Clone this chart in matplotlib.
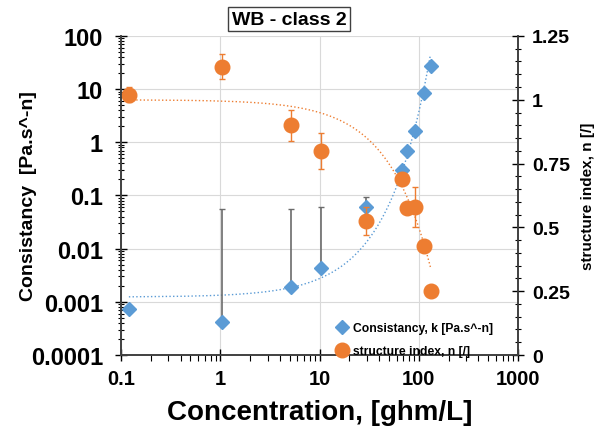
import numpy as np
import matplotlib
matplotlib.use("Agg")
import matplotlib.pyplot as plt
from matplotlib.ticker import FixedLocator, FuncFormatter, MultipleLocator, LogLocator

plt.rcParams['font.family'] = ['Liberation Sans', 'DejaVu Sans']
plt.rcParams['font.weight'] = 'bold'

# data
conc = [0.12, 1.04, 5.2, 10.4, 29.4, 68, 76, 92, 113, 133]
k_val = [0.00074, 0.00042, 0.0019, 0.0044, 0.061, 0.30, 0.69, 1.64, 8.5, 27.3]
k_err_lo = [0, 0, 0, 0, 0.02, 0, 0, 0, 0, 0]
k_err_hi = [0, 0.056, 0.054, 0.056, 0.033, 0, 0, 0, 0, 0]
n_val = [1.02, 1.13, 0.90, 0.80, 0.525, 0.69, 0.576, 0.58, 0.427, 0.25]
n_err = [0.03, 0.05, 0.06, 0.07, 0.055, 0.02, 0.02, 0.08, 0.02, 0.02]

# trendline parameters (excel: exponential for k, linear for n)
k_a, k_b = 0.00123, 0.080
n_a, n_b = 1.0, -0.0050
trend_x = np.linspace(0.12, 131, 400)

blue = '#5B9BD5'
orange = '#ED7D31'

fig = plt.figure(figsize=(6, 4.35), dpi=100)
ax = fig.add_axes([0.2017, 0.1816, 0.6616, 0.7334])
ax2 = ax.twinx()

ax.set_xscale('log')
ax.set_yscale('log')
ax.set_xlim(0.1, 1000)
ax.set_ylim(0.0001, 100)
ax.grid(True, which='major', color='#d9d9d9', lw=0.8)
ax.set_axisbelow(True)

ax.plot(trend_x, k_a * np.exp(k_b * trend_x), ':', color=blue, lw=1)
ax.errorbar(conc, k_val, yerr=[k_err_lo, k_err_hi], fmt='none', ecolor='#6b6b6b',
            elinewidth=1.2, capsize=2)
ax.plot(conc, k_val, 'D', color=blue, ms=7, label='Consistancy, k [Pa.s^-n]')

ax2.set_ylim(0, 1.25)
ax2.plot(trend_x, n_a + n_b * trend_x, ':', color=orange, lw=1)
ax2.errorbar(conc, n_val, yerr=n_err, fmt='none', ecolor=orange, elinewidth=1, capsize=2)
ax2.plot(conc, n_val, 'o', color=orange, ms=10.5, label='structure index, n [/]')

# ticks
ax.yaxis.set_major_locator(LogLocator(base=10, numticks=10))
ax.yaxis.set_minor_locator(LogLocator(base=10, subs=np.arange(2, 10), numticks=10))
ax.yaxis.set_major_formatter(FuncFormatter(lambda v, p: '%g' % v if v >= 0.0001 else ''))
ax.xaxis.set_major_formatter(FuncFormatter(lambda v, p: '%g' % v))
ax.tick_params(axis='y', which='major', direction='inout', length=8, width=1, labelsize=17, pad=9)
ax.tick_params(axis='y', which='minor', direction='inout', length=5, width=0.8)
ax.tick_params(axis='x', which='major', direction='inout', length=8, width=1, labelsize=14.5, pad=6)
ax.tick_params(axis='x', which='minor', direction='out', length=4, width=0.8)

ax2.yaxis.set_major_locator(FixedLocator([0, 0.25, 0.5, 0.75, 1, 1.25]))
ax2.yaxis.set_minor_locator(MultipleLocator(0.05))
ax2.yaxis.set_major_formatter(FuncFormatter(lambda v, p: '%g' % v))
ax2.tick_params(axis='y', which='major', direction='inout', length=8, width=1, labelsize=14, pad=6)
ax2.tick_params(axis='y', which='minor', direction='inout', length=5, width=0.8)

for a in (ax, ax2):
    a.spines['top'].set_visible(False)
    for s in ('left', 'right', 'bottom'):
        a.spines[s].set_color('#404040')
        a.spines[s].set_linewidth(1.2)

ax.set_xlabel('Concentration, [ghm/L]', fontsize=20, fontweight='bold', labelpad=8)
ax.set_ylabel('Consistancy  [Pa.s^-n]', fontsize=14, fontweight='bold')
ax.yaxis.set_label_coords(-0.211, 0.5)
ax2.set_ylabel('structure index, n [/]', fontsize=11, fontweight='bold', labelpad=8)

fig.text(0.4817, 0.954, 'WB - class 2', ha='center', va='center', fontsize=14,
         fontweight='bold', bbox=dict(boxstyle='square,pad=0.2', fc='white', ec='#404040', lw=1))

h1, l1 = ax.get_legend_handles_labels()
h2, l2 = ax2.get_legend_handles_labels()
leg = ax2.legend(h1 + h2, l1 + l2, loc='lower right', frameon=False, fontsize=8.7,
                 bbox_to_anchor=(0.965, -0.04), handletextpad=0.2, labelspacing=0.9,
                 handlelength=1.5)
for t in leg.get_texts():
    t.set_fontweight('bold')

fig.savefig('out.png', dpi=100, facecolor='white')
